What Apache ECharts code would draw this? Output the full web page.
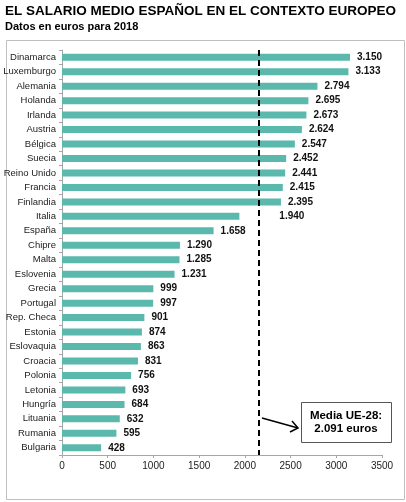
<!DOCTYPE html>
<html lang="es">

<head>
    <meta charset="UTF-8">
    <title>Salario medio</title>
    <script src="https://cdn.jsdelivr.net/npm/echarts@6/dist/echarts.min.js"></script>
    <style>
        html, body {
            margin: 0;
            padding: 0;
            background: #fff;
        }

        #chart {
            width: 406px;
            height: 502px;
        }
    </style>
</head>

<body>
    <div id="chart"></div>
    <script>
        var countries = ['Dinamarca', 'Luxemburgo', 'Alemania', 'Holanda', 'Irlanda', 'Austria', 'Bélgica',
            'Suecia', 'Reino Unido', 'Francia', 'Finlandia', 'Italia', 'España', 'Chipre', 'Malta',
            'Eslovenia', 'Grecia', 'Portugal', 'Rep. Checa', 'Estonia', 'Eslovaquia', 'Croacia',
            'Polonia', 'Letonia', 'Hungría', 'Lituania', 'Rumania', 'Bulgaria'];
        var salaries = [3150, 3133, 2794, 2695, 2673, 2624, 2547, 2452, 2441, 2415, 2395, 1940, 1658, 1290,
            1285, 1231, 999, 997, 901, 874, 863, 831, 756, 693, 684, 632, 595, 428];
        var xTicks = [0, 500, 1000, 1500, 2000, 2500, 3000, 3500];
        var mediaUE = 2091;
        // where the dashed line sits in the picture
        var mediaLinePos = 2150;

        function fmt(v) {
            return String(v).replace(/\B(?=(\d{3})+(?!\d))/g, '.');
        }

        var chart = echarts.init(document.getElementById('chart'));

        var barData = salaries.map(function (v, i) {
            var item = { value: v };
            if (countries[i] === 'Italia') {
                item.label = { distance: 40 };
            }
            return item;
        });

        chart.setOption({
            animation: false,
            textStyle: { fontFamily: 'Liberation Sans, Arial, sans-serif' },
            graphic: [
                {
                    type: 'rect', left: 4, top: 38, silent: true,
                    shape: { width: 398, height: 459 },
                    style: { fill: 'none', stroke: '#bfbfbf', lineWidth: 1 }
                },
                {
                    type: 'text', left: 5, top: 4,
                    style: {
                        text: 'EL SALARIO MEDIO ESPAÑOL EN EL CONTEXTO EUROPEO',
                        font: 'bold 13.5px Liberation Sans, Arial, sans-serif', fill: '#000'
                    }
                },
                {
                    type: 'text', left: 5, top: 21,
                    style: {
                        text: 'Datos en euros para 2018',
                        font: 'bold 11px Liberation Sans, Arial, sans-serif', fill: '#000'
                    }
                },
                {
                    type: 'line', silent: true,
                    shape: { x1: 262, y1: 418, x2: 298, y2: 428 },
                    style: { stroke: '#000', lineWidth: 1.5 }
                },
                {
                    type: 'polyline', silent: true,
                    shape: { points: [[290, 432], [298, 428], [292, 421]] },
                    style: { stroke: '#000', lineWidth: 1.5, fill: 'none' }
                },
                {
                    type: 'rect', left: 301, top: 402,
                    shape: { width: 90, height: 40 },
                    style: { fill: '#fff', stroke: '#555', lineWidth: 1 }
                },
                {
                    type: 'text', x: 346, y: 422,
                    style: {
                        text: 'Media UE-28:\n' + fmt(mediaUE) + ' euros',
                        font: 'bold 11.5px Liberation Sans, Arial, sans-serif', fill: '#000',
                        align: 'center', verticalAlign: 'middle', lineHeight: 13
                    }
                }
            ],
            grid: { left: 62, right: 24, top: 50, bottom: 47, containLabel: false },
            xAxis: {
                type: 'value',
                min: 0, max: 3500, interval: 500,
                axisLine: { show: true, lineStyle: { color: '#a6a6a6' } },
                axisTick: { show: true, length: 3, lineStyle: { color: '#a6a6a6' } },
                splitLine: { show: false },
                axisLabel: {
                    color: '#222', fontSize: 10, margin: 6,
                    formatter: function (v) { return xTicks.indexOf(v) >= 0 ? String(v) : ''; }
                }
            },
            yAxis: {
                type: 'category',
                data: countries,
                inverse: true,
                axisLine: { show: true, lineStyle: { color: '#a6a6a6' } },
                axisTick: { show: true, length: 3, lineStyle: { color: '#a6a6a6' } },
                axisLabel: { color: '#222', fontSize: 9.5, margin: 6 }
            },
            series: [{
                type: 'bar',
                data: barData,
                barWidth: 7,
                itemStyle: { color: '#5bb8ad' },
                label: {
                    show: true,
                    position: 'right',
                    distance: 7,
                    color: '#111',
                    fontSize: 10,
                    fontWeight: 'bold',
                    formatter: function (p) { return fmt(p.value); }
                },
                markLine: {
                    silent: true,
                    symbol: ['none', 'none'],
                    label: { show: false },
                    lineStyle: { color: '#000', type: [6, 4], width: 2 },
                    data: [{ xAxis: mediaLinePos }]
                }
            }]
        });
    </script>
</body>

</html>
